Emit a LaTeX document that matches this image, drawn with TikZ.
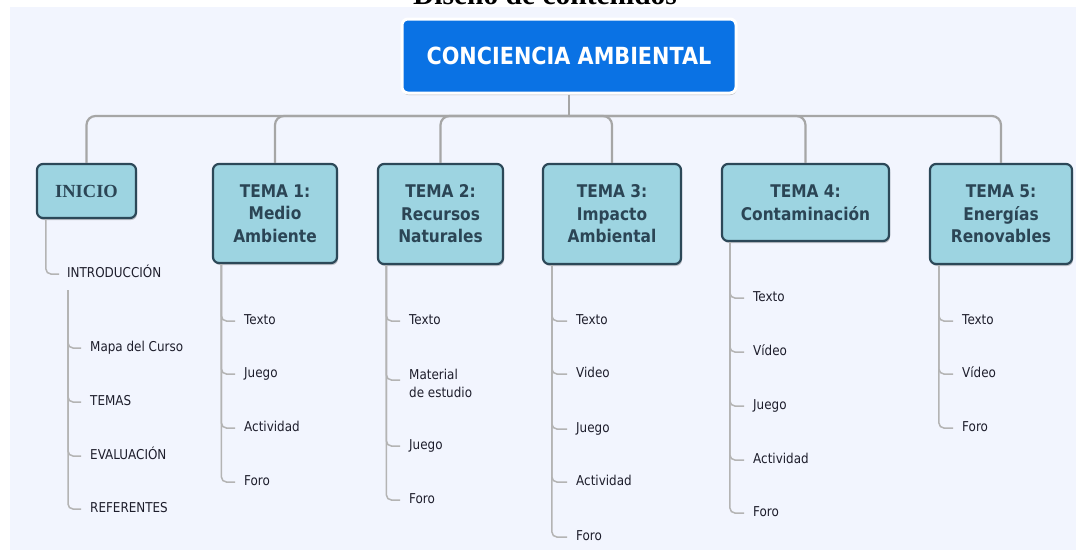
\documentclass[tikz,border=0pt]{standalone}
\usepackage{fontspec}
\setmainfont{DejaVu Sans}[FakeStretch=0.88]
\newfontfamily\titlefont{Liberation Serif}
\usetikzlibrary{shadows,calc}
\definecolor{bg}{HTML}{F2F5FE}
\definecolor{rootblue}{HTML}{0A72E4}
\definecolor{topicfill}{HTML}{9DD4E1}
\definecolor{topicdraw}{HTML}{2C4858}
\definecolor{topictext}{HTML}{2B4555}
\definecolor{branchgray}{HTML}{A6A6A6}
\definecolor{leafgray}{HTML}{B4B4B4}
\definecolor{leaftext}{HTML}{1E1E2C}
\tikzset{
  rootbox/.style={draw=white, line width=3pt, fill=rootblue, rounded corners=6pt,
    text=white, font=\bfseries\fontsize{23.6}{26}\selectfont,
    drop shadow={shadow xshift=0.5pt, shadow yshift=-2pt, opacity=0.35, fill=black!70}},
  topic/.style={draw=topicdraw, line width=2.2pt, fill=topicfill, rounded corners=6pt,
    text=topictext, align=center, font=\bfseries\fontsize{17.5}{22.5}\selectfont,
    inner sep=0pt,
    drop shadow={shadow xshift=1pt, shadow yshift=-2pt, opacity=0.3, fill=black!70}},
  leaf/.style={anchor=west, inner sep=0pt, text=leaftext,
    font=\fontsize{13.6}{18}\selectfont, text height=9.8pt, text depth=2.8pt},
  leafml/.style={anchor=west, inner sep=0pt, text=leaftext, align=left,
    font=\fontsize{13.6}{18}\selectfont},
  branch/.style={draw=branchgray, line width=2.2pt},
  leafline/.style={draw=leafgray, line width=1.5pt, rounded corners=5pt},
}
\begin{document}
\begin{tikzpicture}[x=1pt,y=-1pt]
\useasboundingbox (0,0) rectangle (1076,550);
\fill[bg] (10,7) rectangle (1076,550);
\node[font=\titlefont\bfseries\fontsize{29.5}{30}\selectfont, anchor=base, inner sep=0pt] (title) at (545,4) {Diseño de contenidos};

% root
\node[rootbox, minimum width=334pt, minimum height=74pt] (root) at (569,56) {CONCIENCIA AMBIENTAL};

% topics
\node[topic, font=\titlefont\bfseries\fontsize{18.5}{22}\selectfont, minimum width=99pt, minimum height=54pt] (ini) at (86.5,191) {INICIO};
\node[topic, minimum width=124pt, minimum height=99pt] (t1) at (275,213.5) {TEMA 1:\\Medio\\Ambiente};
\node[topic, minimum width=125pt, minimum height=100pt] (t2) at (440.5,214) {TEMA 2:\\Recursos\\Naturales};
\node[topic, minimum width=138pt, minimum height=100pt] (t3) at (612,214) {TEMA 3:\\Impacto\\Ambiental};
\node[topic, minimum width=167pt, minimum height=77pt] (t4) at (805.5,202.5) {TEMA 4:\\Contaminación};
\node[topic, minimum width=142pt, minimum height=100pt] (t5) at (1001,214) {TEMA 5:\\Energías\\Renovables};

% main branches
\coordinate (bus) at (569,116);
\draw[branch] (root.south) -- (bus);
\foreach \t in {ini,t1,t2,t3,t4,t5} {
  \draw[branch, rounded corners=9pt] (bus) -| (\t.north);
}

% INICIO leaves
\node[leaf] (intro) at (67,274) {INTRODUCCIÓN};
\draw[leafline] ($(ini.south west)+(10,0)$) |- ($(intro.west)+(-8,0)$);
\coordinate (introspine) at ($(intro.west)+(1,16)$);
\foreach \n/\y/\t in {1/348/Mapa del Curso, 2/402/TEMAS, 3/456/EVALUACIÓN, 4/509/REFERENTES} {
  \node[leaf] (i\n) at (90,\y) {\t};
  \draw[leafline] (introspine) |- ($(i\n.west)+(-9,0)$);
}

% TEMA 1
\foreach \n/\y/\t in {1/321/Texto, 2/374/Juego, 3/428/Actividad, 4/482/Foro} {
  \node[leaf] (a\n) at (244,\y) {\t};
  \draw[leafline] ($(t1.south west)+(9.5,0)$) |- ($(a\n.west)+(-9,0)$);
}
% TEMA 2
\node[leaf] (b1) at (409,321) {Texto};
\node[leafml] (b2) at (409,383) {Material\\de estudio};
\node[leaf] (b3) at (409,446) {Juego};
\node[leaf] (b4) at (409,500) {Foro};
\foreach \n in {1,3,4} {
  \draw[leafline] ($(t2.south west)+(9.5,0)$) |- ($(b\n.west)+(-9,0)$);
}
\draw[leafline] ($(t2.south west)+(9.5,0)$) |- ($(b2.west)+(-9,-3)$);
% TEMA 3
\foreach \n/\y/\t in {1/321/Texto, 2/374/Video, 3/429/Juego, 4/482/Actividad, 5/537/Foro} {
  \node[leaf] (c\n) at (576,\y) {\t};
  \draw[leafline] ($(t3.south west)+(10,0)$) |- ($(c\n.west)+(-9,0)$);
}
% TEMA 4
\foreach \n/\y/\t in {1/298/Texto, 2/352/Vídeo, 3/406/Juego, 4/460/Actividad, 5/513/Foro} {
  \node[leaf] (d\n) at (753,\y) {\t};
  \draw[leafline] ($(t4.south west)+(9,0)$) |- ($(d\n.west)+(-9,0)$);
}
% TEMA 5
\foreach \n/\y/\t in {1/321/Texto, 2/374/Vídeo, 3/428/Foro} {
  \node[leaf] (e\n) at (962,\y) {\t};
  \draw[leafline] ($(t5.south west)+(10,0)$) |- ($(e\n.west)+(-9,0)$);
}
\end{tikzpicture}
\end{document}
